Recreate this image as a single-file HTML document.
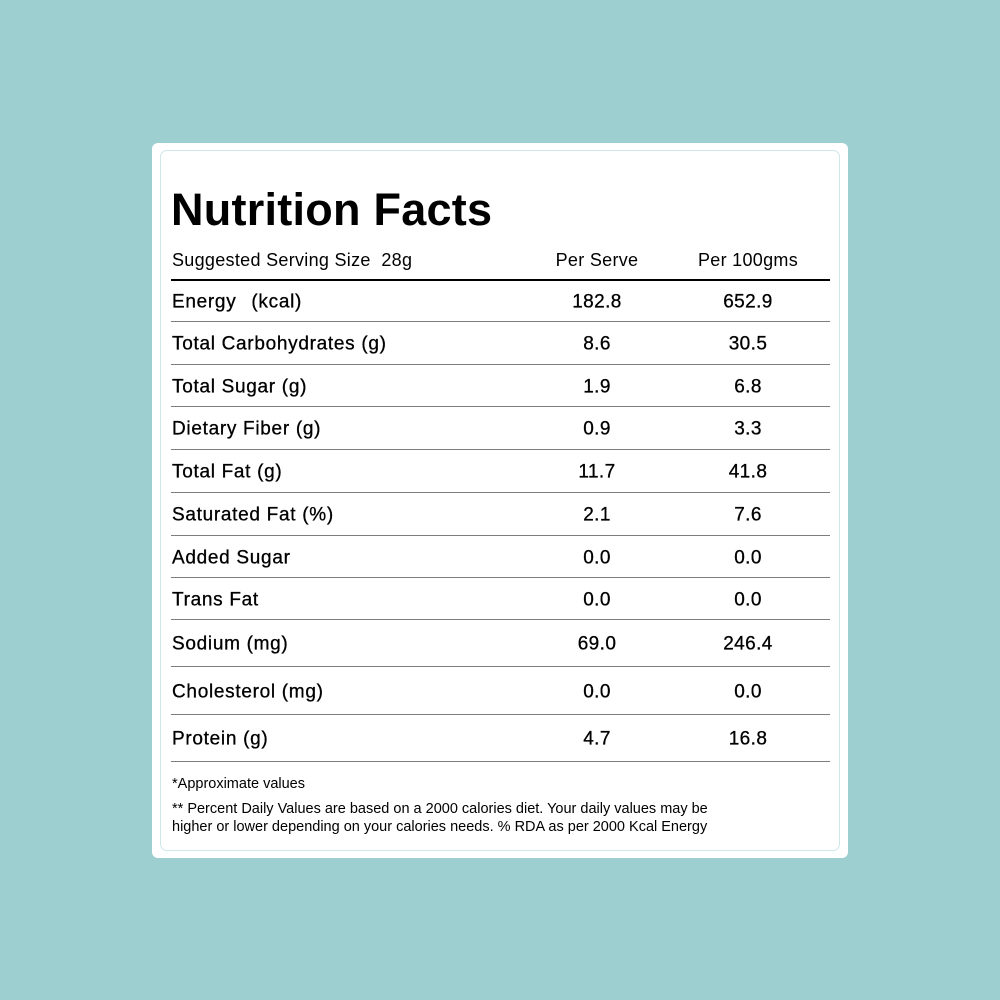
<!DOCTYPE html>
<html><head><meta charset="utf-8"><style>
html,body{margin:0;padding:0}
body{width:1000px;height:1000px;background:#9ecfd0;position:relative;overflow:hidden;font-family:"Liberation Sans",Arial,sans-serif;color:#000}
.card{position:absolute;left:152px;top:143px;width:696px;height:715px;background:#fff;border-radius:6px}
.inner{position:absolute;left:160px;top:150px;width:678px;height:699px;border:1px solid #cfe7e9;border-radius:7px}
.t{position:absolute;white-space:pre}
.title{left:171px;top:187px;font-size:45px;line-height:45px;font-weight:bold;letter-spacing:0.25px}
.hdr{top:251px;font-size:18px;line-height:18px;letter-spacing:0.3px}
.line{position:absolute;left:171px;width:659px;height:1px;background:#7d7d7d}
.row{position:absolute;left:171px;width:659px;display:flex;align-items:center;font-size:19px;letter-spacing:0.7px;-webkit-text-stroke:0.3px #000}
.row span{transform:translateY(1.5px)}
.row .l{position:absolute;left:1px;white-space:pre}
.row .l span{transform:none}
.row .a{position:absolute;left:376px;width:100px;text-align:center;letter-spacing:0.4px}
.row .b{position:absolute;left:527px;width:100px;text-align:center;letter-spacing:0.4px}
.foot{left:172px;font-size:14.5px;line-height:14.5px}
</style></head><body>
<div class="card"></div>
<div class="inner"></div>
<div class="t title">Nutrition Facts</div>
<div class="t hdr" style="left:172px">Suggested Serving Size  28g</div>
<div class="t hdr" style="left:547px;width:100px;text-align:center">Per Serve</div>
<div class="t hdr" style="left:688px;width:120px;text-align:center">Per 100gms</div>
<div class="line" style="top:279px;height:2px;background:#000"></div>
<div class="line" style="top:321px"></div>
<div class="line" style="top:364px"></div>
<div class="line" style="top:406px"></div>
<div class="line" style="top:449px"></div>
<div class="line" style="top:492px"></div>
<div class="line" style="top:535px"></div>
<div class="line" style="top:577px"></div>
<div class="line" style="top:619px"></div>
<div class="line" style="top:666px"></div>
<div class="line" style="top:714px"></div>
<div class="line" style="top:761px"></div>

<div class="row" style="top:281px;height:40px"><span class="l">Energy<span style="margin-left:15px">(kcal)</span></span><span class="a">182.8</span><span class="b">652.9</span></div>
<div class="row" style="top:322px;height:42px"><span class="l">Total Carbohydrates (g)</span><span class="a">8.6</span><span class="b">30.5</span></div>
<div class="row" style="top:365px;height:41px"><span class="l">Total Sugar (g)</span><span class="a">1.9</span><span class="b">6.8</span></div>
<div class="row" style="top:407px;height:42px"><span class="l">Dietary Fiber (g)</span><span class="a">0.9</span><span class="b">3.3</span></div>
<div class="row" style="top:450px;height:42px"><span class="l">Total Fat (g)</span><span class="a">11.7</span><span class="b">41.8</span></div>
<div class="row" style="top:493px;height:42px"><span class="l">Saturated Fat (%)</span><span class="a">2.1</span><span class="b">7.6</span></div>
<div class="row" style="top:536px;height:41px"><span class="l">Added Sugar</span><span class="a">0.0</span><span class="b">0.0</span></div>
<div class="row" style="top:578px;height:41px"><span class="l">Trans Fat</span><span class="a">0.0</span><span class="b">0.0</span></div>
<div class="row" style="top:620px;height:46px"><span class="l">Sodium (mg)</span><span class="a">69.0</span><span class="b">246.4</span></div>
<div class="row" style="top:667px;height:47px"><span class="l">Cholesterol (mg)</span><span class="a">0.0</span><span class="b">0.0</span></div>
<div class="row" style="top:715px;height:46px"><span class="l">Protein (g)</span><span class="a">4.7</span><span class="b">16.8</span></div>

<div class="t foot" style="top:777px">*Approximate values</div>
<div class="t foot" style="top:802px">** Percent Daily Values are based on a 2000 calories diet. Your daily values may be</div>
<div class="t foot" style="top:820px">higher or lower depending on your calories needs. % RDA as per 2000 Kcal Energy</div>
</body></html>
